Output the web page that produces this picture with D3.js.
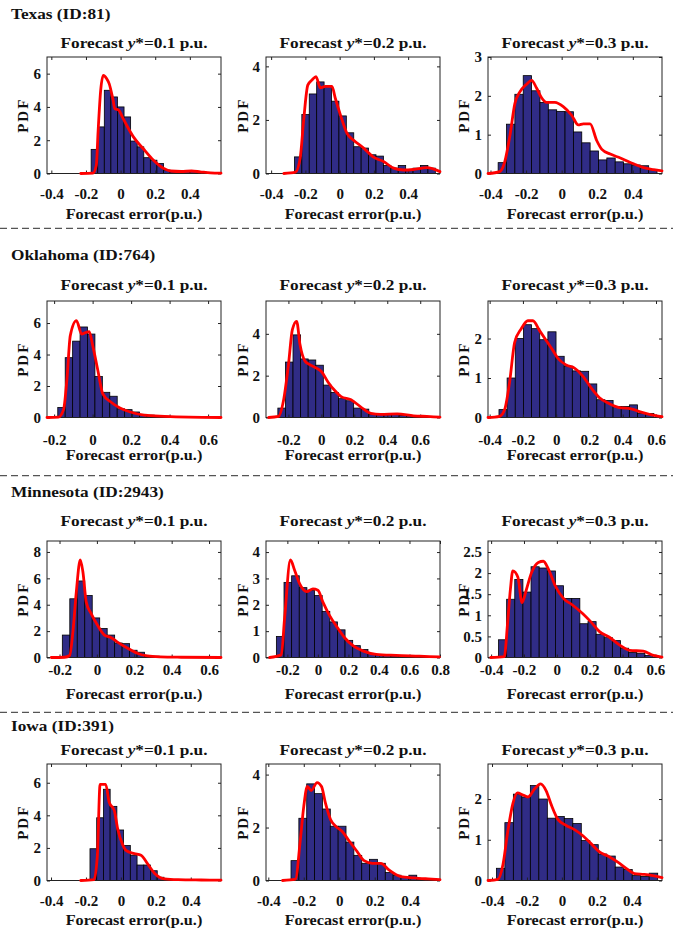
<!DOCTYPE html>
<html>
<head>
<meta charset="utf-8">
<script src="https://cdn.jsdelivr.net/npm/d3@7"></script>
<style>
  body { margin: 0; background: #fff; }
  svg text { font-family: "Liberation Serif", "Times New Roman", serif; font-weight: bold; fill: #111; }
</style>
</head>
<body>
<div id="chart"></div>
<script>
// ---- data ----
const regions = ["Texas (ID:81)", "Oklahoma (ID:764)", "Minnesota (ID:2943)", "Iowa (ID:391)"];
const forecastLevels = ["0.1", "0.2", "0.3"];

// axis limits, row by row (region) and column by column (forecast level)
const xLimits = [
  [[-0.425, 0.58], [-0.43, 0.586], [-0.414, 0.564]],
  [[-0.237, 0.667], [-0.336, 0.72], [-0.41, 0.636]],
  [[-0.267, 0.664], [-0.34, 0.8], [-0.419, 0.64]],
  [[-0.423, 0.573], [-0.413, 0.568], [-0.423, 0.573]]
];
const yLimits = [
  [7, 4.35, 3],
  [7.4, 5.57, 2.95],
  [8.83, 4.42, 2.76],
  [7.15, 4.4, 2.86]
];
const xTickValues = [
  [[-0.4, -0.2, 0, 0.2, 0.4], [-0.4, -0.2, 0, 0.2, 0.4], [-0.4, -0.2, 0, 0.2, 0.4]],
  [[-0.2, 0, 0.2, 0.4, 0.6], [-0.2, 0, 0.2, 0.4, 0.6], [-0.4, -0.2, 0, 0.2, 0.4, 0.6]],
  [[-0.2, 0, 0.2, 0.4, 0.6], [-0.2, 0, 0.2, 0.4, 0.6, 0.8], [-0.4, -0.2, 0, 0.2, 0.4, 0.6]],
  [[-0.4, -0.2, 0, 0.2, 0.4], [-0.4, -0.2, 0, 0.2, 0.4], [-0.4, -0.2, 0, 0.2, 0.4]]
];
const yTickValues = [
  [[0, 2, 4, 6], [0, 2, 4], [0, 1, 2, 3]],
  [[0, 2, 4, 6], [0, 2, 4], [0, 1, 2]],
  [[0, 2, 4, 6, 8], [0, 1, 2, 3, 4], [0, 0.5, 1, 1.5, 2, 2.5]],
  [[0, 2, 4, 6], [0, 2, 4], [0, 1, 2]]
];

// histogram bins: first edge, bin width, heights
const binStarts = [
  [-0.17, -0.264, -0.357],
  [-0.181, -0.264, -0.344],
  [-0.185, -0.272, -0.355],
  [-0.177, -0.272, -0.375]
];
const binWidths = [
  [0.038, 0.0433, 0.047],
  [0.0386, 0.046, 0.049],
  [0.04, 0.05, 0.0495],
  [0.0385, 0.0443, 0.0486]
];

const texasBars = [
  [1.45, 2.8, 5.0, 4.6, 4.0, 3.4, 1.95, 1.6, 0.95, 0.8, 0.6, 0.2, 0.1, 0.1, 0.12, 0.15],
  [0.62, 2.2, 2.97, 3.42, 3.25, 2.7, 2.15, 1.52, 1.0, 0.95, 0.7, 0.65, 0.3, 0.2, 0.3, 0.15, 0.2, 0.3, 0.2],
  [0.28, 1.27, 2.04, 2.52, 2.13, 1.83, 1.64, 1.6, 1.59, 1.07, 0.79, 0.58, 0.35, 0.4, 0.3, 0.25, 0.22, 0.2, 0.1]
];
const oklahomaBars = [
  [0.64, 3.8, 4.85, 5.75, 5.3, 2.6, 1.6, 1.35, 0.55, 0.5, 0.35, 0.2, 0.15, 0.1, 0.08, 0.05, 0.05, 0.05, 0.03, 0.03],
  [0.45, 2.65, 3.95, 2.8, 2.75, 2.5, 1.55, 1.2, 0.9, 0.8, 0.45, 0.4, 0.15, 0.15, 0.15, 0.15, 0.1, 0.1, 0.1, 0.05],
  [0.2, 1.0, 2.0, 2.35, 2.25, 1.97, 2.17, 1.55, 1.3, 1.18, 1.17, 0.85, 0.45, 0.43, 0.28, 0.28, 0.32, 0.1, 0.1]
];
const minnesotaBars = [
  [1.7, 4.45, 5.8, 4.7, 3.0, 2.2, 1.7, 1.1, 1.05, 0.55, 0.4, 0.15, 0.1, 0.05, 0.05, 0.05, 0.08, 0.03, 0.03, 0.05],
  [0.8, 2.85, 3.1, 2.65, 2.55, 2.35, 1.75, 1.35, 1.05, 0.65, 0.45, 0.3, 0.15, 0.1, 0.08, 0.06, 0.05, 0.05, 0.04, 0.03],
  [0.42, 1.38, 1.85, 1.55, 2.15, 2.12, 2.05, 1.7, 1.4, 1.4, 0.8, 0.85, 0.55, 0.47, 0.4, 0.22, 0.12, 0.1, 0.05]
];
const iowaBars = [
  [1.95, 3.85, 5.6, 4.55, 3.1, 2.15, 1.55, 0.95, 0.95, 0.6, 0.2, 0.1, 0.05, 0.05],
  [0.75, 2.35, 3.65, 3.28, 2.7, 2.05, 2.05, 1.45, 0.95, 0.65, 0.8, 0.65, 0.3, 0.2, 0.12, 0.2, 0.05],
  [0.3, 1.42, 2.12, 2.05, 2.33, 2.0, 1.53, 1.57, 1.52, 1.4, 0.98, 0.88, 0.65, 0.6, 0.33, 0.27, 0.12, 0.1, 0.18]
];

// fitted pdf curves, [error, pdf]
const texasCurves = [
  [[-0.23,0],[-0.16,0.02],[-0.14,0.5],[-0.13,2.5],[-0.115,5.0],[-0.1,5.9],[-0.08,5.7],[-0.066,5.4],[-0.045,4.5],[-0.033,3.9],[-0.01,3.8],[0.01,3.4],[0.035,2.9],[0.074,2.2],[0.13,1.5],[0.19,0.8],[0.25,0.3],[0.29,0.15],[0.35,0.12],[0.41,0.15],[0.46,0.1],[0.52,0.04],[0.58,0.02]],
  [[-0.326,0],[-0.258,0.05],[-0.23,0.6],[-0.21,2.0],[-0.186,3.3],[-0.16,3.5],[-0.138,3.62],[-0.113,3.2],[-0.083,3.25],[-0.045,3.25],[-0.025,2.8],[0.004,2.2],[0.043,1.5],[0.08,1.25],[0.14,0.95],[0.2,0.6],[0.256,0.45],[0.315,0.2],[0.373,0.13],[0.43,0.15],[0.51,0.22],[0.586,0.07]],
  [[-0.414,0],[-0.348,0.05],[-0.32,0.3],[-0.29,1.0],[-0.263,1.8],[-0.235,2.1],[-0.197,2.3],[-0.169,2.4],[-0.141,2.2],[-0.113,1.95],[-0.085,1.83],[-0.038,1.83],[0.009,1.72],[0.056,1.5],[0.094,1.25],[0.122,1.28],[0.16,1.28],[0.197,0.85],[0.226,0.62],[0.273,0.5],[0.33,0.4],[0.404,0.25],[0.46,0.15],[0.517,0.1],[0.564,0.07]]
];
const oklahomaCurves = [
  [[-0.237,0],[-0.178,0.02],[-0.151,0.5],[-0.133,2.5],[-0.116,5.2],[-0.084,6.15],[-0.057,5.3],[-0.036,5.4],[-0.018,5.45],[0,4.6],[0.027,3.0],[0.053,1.5],[0.098,0.95],[0.142,0.6],[0.196,0.35],[0.267,0.15],[0.374,0.07],[0.5,0.02],[0.667,0]],
  [[-0.32,0],[-0.26,0.05],[-0.23,0.8],[-0.2,2.5],[-0.176,4.2],[-0.15,4.6],[-0.13,3.5],[-0.1,2.7],[-0.076,2.55],[-0.04,2.4],[0,2.2],[0.04,1.7],[0.08,1.3],[0.12,1.0],[0.18,0.85],[0.24,0.5],[0.3,0.2],[0.36,0.15],[0.46,0.17],[0.56,0.08],[0.64,0.05],[0.72,0.02]],
  [[-0.41,0],[-0.34,0.03],[-0.31,0.2],[-0.28,0.9],[-0.25,1.9],[-0.21,2.25],[-0.17,2.45],[-0.14,2.45],[-0.1,2.2],[-0.06,1.95],[-0.02,1.7],[0.01,1.5],[0.06,1.33],[0.11,1.25],[0.16,1.05],[0.21,0.75],[0.26,0.5],[0.32,0.35],[0.38,0.25],[0.45,0.22],[0.5,0.15],[0.56,0.08],[0.636,0.02]]
];
const minnesotaCurves = [
  [[-0.244,0],[-0.173,0.02],[-0.146,0.15],[-0.128,2.0],[-0.11,5.0],[-0.089,7.4],[-0.075,6.5],[-0.057,4.2],[-0.03,3.3],[0.005,2.4],[0.04,1.7],[0.077,1.5],[0.112,1.15],[0.165,0.7],[0.22,0.3],[0.27,0.12],[0.34,0.05],[0.45,0.02],[0.664,0]],
  [[-0.316,0],[-0.24,0.1],[-0.218,1.5],[-0.18,3.7],[-0.152,3.3],[-0.12,2.8],[-0.072,2.5],[-0.033,2.6],[0,2.55],[0.033,2.1],[0.076,1.6],[0.12,1.2],[0.175,0.75],[0.23,0.45],[0.294,0.25],[0.382,0.12],[0.513,0.08],[0.665,0.05],[0.796,0.02]],
  [[-0.402,0],[-0.32,0.02],[-0.3,0.8],[-0.283,1.6],[-0.268,2.05],[-0.237,1.9],[-0.212,1.3],[-0.186,1.6],[-0.155,2.0],[-0.113,2.25],[-0.082,2.28],[-0.052,2.1],[-0.01,1.7],[0.04,1.4],[0.093,1.25],[0.155,1.05],[0.206,0.85],[0.258,0.62],[0.32,0.48],[0.38,0.3],[0.443,0.17],[0.526,0.15],[0.588,0.05],[0.64,0.01]]
];
const iowaCurves = [
  [[-0.23,0],[-0.154,0.05],[-0.135,1.5],[-0.119,5.9],[-0.087,5.9],[-0.067,4.8],[-0.038,4.3],[-0.019,3.2],[0.01,2.2],[0.029,1.85],[0.077,1.65],[0.115,1.55],[0.154,1.0],[0.192,0.45],[0.25,0.1],[0.327,0.05],[0.46,0.03],[0.573,0.02]],
  [[-0.32,0],[-0.247,0.05],[-0.22,1.5],[-0.2,2.8],[-0.18,3.55],[-0.158,3.4],[-0.125,3.7],[-0.1,3.55],[-0.077,2.9],[-0.049,2.3],[-0.02,2.05],[0.017,1.85],[0.055,1.5],[0.1,1.1],[0.14,0.75],[0.187,0.65],[0.234,0.65],[0.28,0.4],[0.347,0.15],[0.42,0.1],[0.5,0.06],[0.568,0.03]],
  [[-0.423,0],[-0.366,0.03],[-0.337,0.4],[-0.31,1.2],[-0.28,1.9],[-0.255,2.15],[-0.223,2.1],[-0.194,2.05],[-0.156,2.25],[-0.122,2.37],[-0.09,2.2],[-0.06,1.85],[-0.023,1.5],[0.025,1.35],[0.072,1.25],[0.12,1.1],[0.168,0.9],[0.215,0.7],[0.263,0.6],[0.32,0.45],[0.368,0.3],[0.415,0.17],[0.472,0.15],[0.52,0.12],[0.573,0.07]]
];

const allBars = [texasBars, oklahomaBars, minnesotaBars, iowaBars];
const allCurves = [texasCurves, oklahomaCurves, minnesotaCurves, iowaCurves];

// ---- layout ----
const W = 673, H = 930;
const colLeft = [47, 266, 488];
const plotW = 174;
const rowTop = [57, 301, 541, 764];
const plotH = 116.5;
const headerY = [19.3, 260, 497.5, 731];
const titleY = [47.7, 290, 526.5, 755];
const tickPad = [15.3, 17, 6.6, 15.3];
const xLabelY = [219, 460.5, 699, 925];
const sepY = [228.3, 475.7, 712.3];
const yLabelX = [23, 243, 464];

const svg = d3.select("#chart").append("svg")
  .attr("width", W).attr("height", H)
  .style("background", "#fff");

// stretch text horizontally like the original export
function stretch(sel, k, origin) {
  sel.style("transform-box", "fill-box")
    .style("transform-origin", origin)
    .style("transform", `scaleX(${k})`);
}

// dashed separators
svg.selectAll("line.sep").data(sepY).enter().append("line")
  .attr("class", "sep")
  .attr("x1", 0).attr("x2", W)
  .attr("y1", d => d).attr("y2", d => d)
  .attr("stroke", "#555").attr("stroke-width", 1.2)
  .attr("stroke-dasharray", "7,4");

const fmt = d => String(d);

regions.forEach((name, r) => {
  svg.append("text")
    .attr("x", 11).attr("y", headerY[r])
    .style("font-size", "15px")
    .text(name)
    .call(stretch, 1.15, "0% 50%");

  forecastLevels.forEach((lvl, c) => {
    const x = d3.scaleLinear().domain(xLimits[r][c]).range([colLeft[c], colLeft[c] + plotW]);
    const y = d3.scaleLinear().domain([0, yLimits[r][c]]).range([rowTop[r] + plotH, rowTop[r]]);

    const heights = allBars[r][c];
    const bins = heights.map((h, i) => ({
      x0: binStarts[r][c] + i * binWidths[r][c],
      x1: binStarts[r][c] + (i + 1) * binWidths[r][c],
      h: h
    }));

    const panel = svg.append("g");

    // bars
    panel.selectAll("rect.bar").data(bins).enter().append("rect")
      .attr("class", "bar")
      .attr("x", d => x(d.x0))
      .attr("width", d => x(d.x1) - x(d.x0))
      .attr("y", d => y(d.h))
      .attr("height", d => y(0) - y(d.h))
      .attr("fill", "#302c86")
      .attr("stroke", "#000")
      .attr("stroke-width", 0.8);

    // axes (ticks inside, box on)
    const axisColor = "#222";
    const xb = panel.append("g")
      .attr("transform", `translate(0,${y(0)})`)
      .style("color", axisColor)
      .call(d3.axisBottom(x).tickValues(xTickValues[r][c]).tickFormat(fmt)
        .tickSizeInner(-3).tickSizeOuter(0).tickPadding(tickPad[r]));
    xb.selectAll("text").style("font-size", "15px");

    panel.append("g")
      .attr("transform", `translate(0,${rowTop[r]})`)
      .style("color", axisColor)
      .call(d3.axisTop(x).tickValues(xTickValues[r][c]).tickFormat("")
        .tickSizeInner(-3).tickSizeOuter(0));

    const yl = panel.append("g")
      .attr("transform", `translate(${colLeft[c]},0)`)
      .style("color", axisColor)
      .call(d3.axisLeft(y).tickValues(yTickValues[r][c]).tickFormat(fmt)
        .tickSizeInner(-3).tickSizeOuter(0).tickPadding(6));
    yl.selectAll("text").style("font-size", "15px");

    panel.append("g")
      .attr("transform", `translate(${colLeft[c] + plotW},0)`)
      .style("color", axisColor)
      .call(d3.axisRight(y).tickValues(yTickValues[r][c]).tickFormat("")
        .tickSizeInner(-3).tickSizeOuter(0));

    panel.selectAll(".domain").remove();
    panel.append("rect")
      .attr("x", colLeft[c]).attr("y", rowTop[r])
      .attr("width", plotW).attr("height", plotH)
      .attr("fill", "none").attr("stroke", axisColor).attr("stroke-width", 1);

    // fitted curve
    const line = d3.line()
      .x(d => x(d[0]))
      .y(d => y(d[1]))
      .curve(d3.curveMonotoneX);
    panel.append("path")
      .datum(allCurves[r][c])
      .attr("d", line)
      .attr("fill", "none")
      .attr("stroke", "#ff0000")
      .attr("stroke-width", 2.8)
      .attr("stroke-linejoin", "round")
      .attr("stroke-linecap", "round");

    // panel title
    const t = panel.append("text")
      .attr("x", colLeft[c] + plotW / 2).attr("y", titleY[r])
      .attr("text-anchor", "middle")
      .style("font-size", "15px");
    t.append("tspan").text("Forecast ");
    t.append("tspan").style("font-style", "italic").text("y");
    t.append("tspan").text(`*=${lvl} p.u.`);
    t.call(stretch, 1.15, "50% 50%");

    // axis labels
    panel.append("text")
      .attr("x", colLeft[c] + plotW / 2).attr("y", xLabelY[r])
      .attr("text-anchor", "middle")
      .style("font-size", "15px")
      .text("Forecast error(p.u.)")
      .call(stretch, 1.08, "50% 50%");

    panel.append("text")
      .attr("transform", `translate(${yLabelX[c]},${rowTop[r] + plotH / 2}) rotate(-90)`)
      .attr("text-anchor", "middle")
      .attr("dy", "0.35em")
      .style("font-size", "15px")
      .style("letter-spacing", "2px")
      .text("PDF");
  });
});
</script>
</body>
</html>
